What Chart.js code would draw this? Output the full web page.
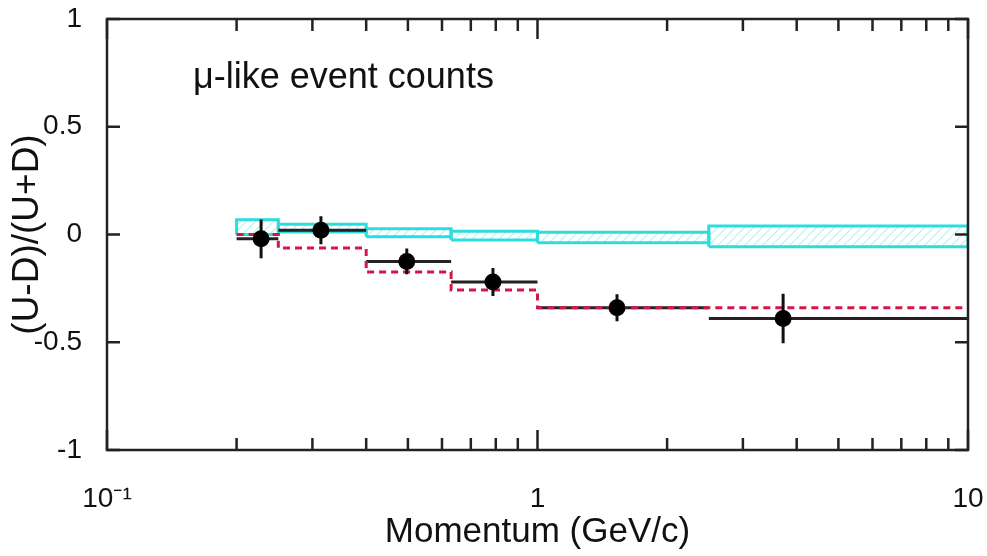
<!DOCTYPE html>
<html>
<head>
<meta charset="utf-8">
<script src="https://cdn.jsdelivr.net/npm/chart.js@4.4.1/dist/chart.umd.min.js"></script>
<style>
  html, body { margin: 0; padding: 0; background: #fff; }
  #wrap { width: 987px; height: 556px; }
</style>
</head>
<body>
<div id="wrap"><canvas id="asymChart" width="987" height="556"></canvas></div>
<script>
// momentum bin edges (GeV/c)
const binEdges = [0.2, 0.25, 0.4, 0.63, 1.0, 2.5, 10];

// data points
const dataX = [0.228, 0.314, 0.497, 0.788, 1.53, 3.72];
const dataY = [-0.02, 0.02, -0.125, -0.22, -0.34, -0.39];
const dataErr = [0.09, 0.065, 0.06, 0.065, 0.063, 0.115];

// expectation (red dashed) per bin
const expY = [0.0, -0.063, -0.174, -0.258, -0.34, -0.34];

// no-oscillation band (cyan boxes) per bin
const bandHi = [0.068, 0.047, 0.027, 0.015, 0.01, 0.04];
const bandLo = [0.0, 0.012, -0.01, -0.025, -0.038, -0.057];

// axis ticks
const xMajorTicks = [0.1, 1, 10];
const xMajorLabels = ['10⁻¹', '1', '10'];
const xMinorTicks = [0.2, 0.3, 0.4, 0.5, 0.6, 0.7, 0.8, 0.9, 2, 3, 4, 5, 6, 7, 8, 9];
const yTicks = [-1, -0.5, 0, 0.5, 1];
const yLabels = ['-1', '-0.5', '0', '0.5', '1'];

const fontFamily = "'Liberation Sans', Arial, Helvetica, sans-serif";
const cyan = '#2ddcdc';

// hatch pattern for the cyan boxes
function makeHatch() {
    const c = document.createElement('canvas');
    c.width = 9; c.height = 9;
    const g = c.getContext('2d');
    g.strokeStyle = '#b4f2f2';
    g.lineWidth = 1.2;
    g.beginPath();
    g.moveTo(0, 9); g.lineTo(9, 0);
    g.moveTo(-2, 2); g.lineTo(2, -2);
    g.moveTo(7, 11); g.lineTo(11, 7);
    g.stroke();
    return g.createPattern(c, 'repeat');
}
const hatch = makeHatch();

// build datasets
const pointData = dataX.map((x, i) => ({ x: x, y: dataY[i] }));

const vErrData = [];
dataX.forEach((x, i) => {
    vErrData.push({ x: x, y: dataY[i] - dataErr[i] });
    vErrData.push({ x: x, y: dataY[i] + dataErr[i] });
    vErrData.push({ x: x, y: null });
});

const hBarData = [];
dataY.forEach((y, i) => {
    hBarData.push({ x: binEdges[i], y: y });
    hBarData.push({ x: binEdges[i + 1], y: y });
    hBarData.push({ x: binEdges[i + 1], y: null });
});

const expData = binEdges.map((x, i) => ({ x: x, y: expY[Math.min(i, expY.length - 1)] }));

const boxSets = bandHi.map((hi, i) => {
    const lo = bandLo[i];
    const x0 = binEdges[i], x1 = binEdges[i + 1];
    return {
        data: [{ x: x0, y: lo }, { x: x1, y: lo }, { x: x1, y: hi }, { x: x0, y: hi }, { x: x0, y: lo }],
        borderColor: cyan,
        borderWidth: 3,
        backgroundColor: hatch,
        fill: 'shape',
        pointRadius: 0,
        tension: 0
    };
});

const datasets = [
    {
        data: pointData,
        showLine: false,
        pointRadius: 8.5,
        pointBackgroundColor: '#000',
        pointBorderColor: '#000',
        pointBorderWidth: 0
    },
    {
        data: vErrData,
        borderColor: '#111',
        borderWidth: 3,
        pointRadius: 0,
        spanGaps: false
    },
    {
        data: expData,
        stepped: 'before',
        borderColor: '#d4174a',
        borderWidth: 3,
        borderDash: [7, 5],
        pointRadius: 0
    },
    {
        data: hBarData,
        borderColor: '#222',
        borderWidth: 3,
        pointRadius: 0,
        spanGaps: false
    }
].concat(boxSets);

// frame, inward ticks and the text label
const framePlugin = {
    id: 'framePlugin',
    afterDatasetsDraw(chart) {
        const { ctx, chartArea: a, scales } = chart;
        const xs = scales.x, ys = scales.y;
        ctx.save();
        ctx.strokeStyle = '#222';
        ctx.lineWidth = 2.5;
        ctx.beginPath();
        xMinorTicks.forEach(v => {
            const px = xs.getPixelForValue(v);
            ctx.moveTo(px, a.bottom); ctx.lineTo(px, a.bottom - 12);
            ctx.moveTo(px, a.top); ctx.lineTo(px, a.top + 12);
        });
        xMajorTicks.forEach(v => {
            const px = xs.getPixelForValue(v);
            ctx.moveTo(px, a.bottom); ctx.lineTo(px, a.bottom - 20);
            ctx.moveTo(px, a.top); ctx.lineTo(px, a.top + 20);
        });
        yTicks.forEach(v => {
            const py = ys.getPixelForValue(v);
            ctx.moveTo(a.left, py); ctx.lineTo(a.left + 13, py);
            ctx.moveTo(a.right, py); ctx.lineTo(a.right - 13, py);
        });
        ctx.stroke();
        ctx.strokeRect(a.left, a.top, a.right - a.left, a.bottom - a.top);

        ctx.fillStyle = '#111';
        ctx.font = '36px ' + fontFamily;
        ctx.textBaseline = 'alphabetic';
        ctx.textAlign = 'left';
        ctx.fillText('μ-like event counts', 193, 88);
        ctx.restore();
    }
};

new Chart(document.getElementById('asymChart'), {
    type: 'line',
    data: { datasets: datasets },
    options: {
        responsive: false,
        animation: false,
        events: [],
        layout: { padding: { top: 19, right: 19, left: 0, bottom: 0 } },
        plugins: {
            legend: { display: false },
            tooltip: { enabled: false }
        },
        scales: {
            x: {
                type: 'logarithmic',
                min: 0.1,
                max: 10,
                grid: { display: false, drawTicks: false, tickLength: 0 },
                border: { display: false },
                afterBuildTicks: s => {
                    s.ticks = xMajorTicks.map(v => ({ value: v }));
                },
                afterFit: s => {
                    s.height = 106;
                    s.paddingLeft = 0; s.paddingRight = 0;
                },
                ticks: {
                    autoSkip: false,
                    maxRotation: 0,
                    padding: 32,
                    color: '#111',
                    font: { family: fontFamily, size: 28 },
                    callback: (v) => {
                        const i = xMajorTicks.indexOf(v);
                        return i >= 0 ? xMajorLabels[i] : '';
                    }
                },
                title: {
                    display: true,
                    text: 'Momentum (GeV/c)',
                    color: '#111',
                    font: { family: fontFamily, size: 35 },
                    padding: { top: 0, bottom: 3 }
                }
            },
            y: {
                min: -1,
                max: 1,
                grid: { display: false, drawTicks: false, tickLength: 0 },
                border: { display: false },
                afterBuildTicks: s => {
                    s.ticks = yTicks.map(v => ({ value: v }));
                },
                afterFit: s => {
                    s.width = 107;
                    s.paddingTop = 0; s.paddingBottom = 0;
                },
                ticks: {
                    padding: 25,
                    color: '#111',
                    font: { family: fontFamily, size: 28 },
                    callback: (v) => {
                        const i = yTicks.indexOf(v);
                        return i >= 0 ? yLabels[i] : '';
                    }
                },
                title: {
                    display: true,
                    text: '(U-D)/(U+D)',
                    color: '#111',
                    font: { family: fontFamily, size: 37 },
                    padding: { top: 6, bottom: 0 }
                }
            }
        }
    },
    plugins: [framePlugin]
});
</script>
</body>
</html>
